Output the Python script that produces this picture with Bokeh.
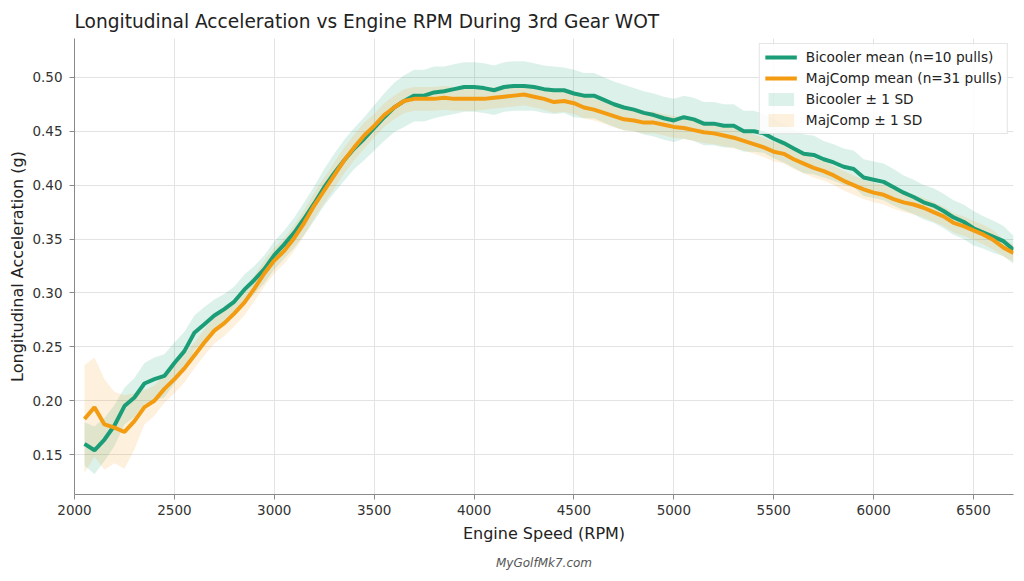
from bokeh.plotting import figure
from bokeh.models import (ColumnDataSource, Range1d, FixedTicker, PrintfTickFormatter,
                          Legend, LegendItem, Title)
from bokeh.embed import file_html
from bokeh.resources import INLINE

# Engine speed bins (RPM)
rpm = list(range(2050, 6701, 50))

# Bicooler: mean longitudinal acceleration (g) and standard deviation
bicooler_mean = [
    0.160, 0.154, 0.164, 0.177, 0.195, 0.203, 0.216, 0.220, 0.223, 0.235,
    0.246, 0.263, 0.271, 0.279, 0.285, 0.292, 0.303, 0.312, 0.322, 0.335,
    0.345, 0.356, 0.369, 0.383, 0.398, 0.411, 0.423, 0.434, 0.443, 0.453,
    0.463, 0.472, 0.478, 0.483, 0.483, 0.486, 0.487, 0.489, 0.491, 0.491,
    0.490, 0.488, 0.491, 0.492, 0.492, 0.491, 0.489, 0.488, 0.488, 0.485,
    0.483, 0.483, 0.479, 0.475, 0.472, 0.470, 0.467, 0.465, 0.462, 0.460,
    0.463, 0.461, 0.457, 0.457, 0.455, 0.455, 0.450, 0.450, 0.448, 0.443,
    0.439, 0.434, 0.429, 0.428, 0.424, 0.421, 0.417, 0.415, 0.407, 0.405,
    0.403, 0.398, 0.393, 0.389, 0.384, 0.381, 0.376, 0.370, 0.366, 0.360,
    0.356, 0.352, 0.348, 0.340,
]
bicooler_sd = [
    0.020, 0.022, 0.020, 0.019, 0.017, 0.018, 0.019, 0.020, 0.020, 0.019,
    0.018, 0.016, 0.016, 0.015, 0.014, 0.014, 0.014, 0.013, 0.013, 0.013,
    0.013, 0.014, 0.015, 0.016, 0.017, 0.018, 0.019, 0.019, 0.020, 0.021,
    0.022, 0.023, 0.024, 0.024, 0.024, 0.024, 0.023, 0.023, 0.023, 0.023,
    0.023, 0.023, 0.023, 0.023, 0.023, 0.022, 0.022, 0.022, 0.021, 0.022,
    0.021, 0.021, 0.021, 0.021, 0.021, 0.020, 0.020, 0.020, 0.020, 0.020,
    0.020, 0.020, 0.020, 0.020, 0.020, 0.020, 0.019, 0.019, 0.018, 0.018,
    0.018, 0.018, 0.018, 0.018, 0.017, 0.017, 0.017, 0.017, 0.017, 0.017,
    0.017, 0.017, 0.016, 0.016, 0.016, 0.016, 0.016, 0.016, 0.016, 0.016,
    0.015, 0.015, 0.014, 0.013,
]

# MajComp: mean longitudinal acceleration (g) and standard deviation
majcomp_mean = [
    0.183, 0.194, 0.178, 0.175, 0.171, 0.181, 0.194, 0.200, 0.211, 0.220,
    0.230, 0.242, 0.254, 0.265, 0.272, 0.281, 0.291, 0.304, 0.318, 0.330,
    0.339, 0.351, 0.365, 0.381, 0.395, 0.409, 0.423, 0.435, 0.446, 0.455,
    0.465, 0.472, 0.478, 0.480, 0.480, 0.480, 0.481, 0.480, 0.480, 0.480,
    0.480, 0.481, 0.482, 0.483, 0.484, 0.482, 0.480, 0.477, 0.478, 0.476,
    0.472, 0.470, 0.467, 0.464, 0.461, 0.460, 0.458, 0.458, 0.456, 0.454,
    0.453, 0.451, 0.449, 0.448, 0.446, 0.444, 0.441, 0.438, 0.435, 0.431,
    0.429, 0.424, 0.420, 0.416, 0.413, 0.409, 0.404, 0.400, 0.396, 0.393,
    0.391, 0.387, 0.384, 0.382, 0.379, 0.375, 0.371, 0.365, 0.362, 0.358,
    0.354, 0.349, 0.342, 0.337,
]
majcomp_sd = [
    0.050, 0.046, 0.042, 0.033, 0.034, 0.026, 0.016, 0.014, 0.013, 0.013,
    0.013, 0.012, 0.012, 0.012, 0.012, 0.012, 0.012, 0.012, 0.012, 0.012,
    0.012, 0.012, 0.012, 0.012, 0.012, 0.012, 0.012, 0.012, 0.012, 0.011,
    0.011, 0.011, 0.011, 0.011, 0.011, 0.011, 0.011, 0.011, 0.011, 0.011,
    0.010, 0.010, 0.010, 0.010, 0.010, 0.010, 0.010, 0.010, 0.010, 0.010,
    0.010, 0.010, 0.010, 0.010, 0.010, 0.010, 0.010, 0.010, 0.010, 0.010,
    0.010, 0.010, 0.010, 0.010, 0.010, 0.010, 0.009, 0.009, 0.009, 0.009,
    0.009, 0.009, 0.009, 0.009, 0.009, 0.009, 0.009, 0.009, 0.009, 0.009,
    0.009, 0.009, 0.009, 0.009, 0.009, 0.009, 0.009, 0.009, 0.009, 0.009,
    0.009, 0.009, 0.008, 0.008,
]

x_ticks = [2000, 2500, 3000, 3500, 4000, 4500, 5000, 5500, 6000, 6500]
y_ticks = [0.15, 0.20, 0.25, 0.30, 0.35, 0.40, 0.45, 0.50]

GREEN = "#1b9e77"
ORANGE = "#f39c12"
FONT = "DejaVu Sans"

src = ColumnDataSource(dict(
    rpm=rpm,
    b_mean=bicooler_mean,
    b_lo=[m - s for m, s in zip(bicooler_mean, bicooler_sd)],
    b_hi=[m + s for m, s in zip(bicooler_mean, bicooler_sd)],
    m_mean=majcomp_mean,
    m_lo=[m - s for m, s in zip(majcomp_mean, majcomp_sd)],
    m_hi=[m + s for m, s in zip(majcomp_mean, majcomp_sd)],
))

p = figure(width=1024, height=581, output_backend="svg", toolbar_location=None,
           x_range=Range1d(2000, 6700), y_range=Range1d(0.113, 0.536),
           min_border_left=74, min_border_right=11, min_border_top=38,
           min_border_bottom=87, outline_line_color=None,
           background_fill_color="white", border_fill_color="white")

p.title.text = "Longitudinal Acceleration vs Engine RPM During 3rd Gear WOT"
p.title.text_font = FONT
p.title.text_font_size = "18.6px"
p.title.text_font_style = "normal"
p.title.text_color = "#222222"
p.title.align = "left"
p.title.standoff = 14

# shaded ±1 SD bands
b_band = p.varea(x="rpm", y1="b_lo", y2="b_hi", source=src,
                 fill_color=GREEN, fill_alpha=0.15)
m_band = p.varea(x="rpm", y1="m_lo", y2="m_hi", source=src,
                 fill_color=ORANGE, fill_alpha=0.15)

# mean traces
b_line = p.line(x="rpm", y="b_mean", source=src, line_color=GREEN, line_width=4)
m_line = p.line(x="rpm", y="m_mean", source=src, line_color=ORANGE, line_width=4)

for ax in (p.xaxis[0], p.yaxis[0]):
    ax.axis_line_color = "#8a8a8a"
    ax.major_tick_line_color = "#8a8a8a"
    ax.minor_tick_line_color = None
    ax.major_tick_out = 5
    ax.major_tick_in = 0
    ax.major_label_text_font = FONT
    ax.major_label_text_font_size = "13.5px"
    ax.major_label_text_color = "#333333"
    ax.axis_label_text_font = FONT
    ax.axis_label_text_font_size = "16px"
    ax.axis_label_text_font_style = "normal"
    ax.axis_label_text_color = "#222222"

p.xaxis.axis_label = "Engine Speed (RPM)"
p.yaxis.axis_label = "Longitudinal Acceleration (g)"
p.xaxis.ticker = FixedTicker(ticks=x_ticks)
p.yaxis.ticker = FixedTicker(ticks=y_ticks)
p.yaxis.formatter = PrintfTickFormatter(format="%.2f")
p.yaxis.major_label_standoff = 7
p.xaxis.axis_label_standoff = 6
p.yaxis.axis_label_standoff = 2

p.xgrid.ticker = FixedTicker(ticks=x_ticks)
p.ygrid.ticker = FixedTicker(ticks=y_ticks)
p.grid.grid_line_color = "#e3e3e3"
p.grid.grid_line_width = 1

legend = Legend(items=[
    LegendItem(label="Bicooler mean (n=10 pulls)", renderers=[b_line]),
    LegendItem(label="MajComp mean (n=31 pulls)", renderers=[m_line]),
    LegendItem(label="Bicooler \u00b1 1 SD", renderers=[b_band]),
    LegendItem(label="MajComp \u00b1 1 SD", renderers=[m_band]),
], location="top_right")
legend.label_text_font = FONT
legend.label_text_font_size = "13.7px"
legend.label_text_color = "#222222"
legend.glyph_width = 32
legend.glyph_height = 16
legend.label_height = 16
legend.label_standoff = 9
legend.spacing = 5
legend.padding = 5
legend.margin = 5
legend.border_line_color = "#cccccc"
legend.background_fill_alpha = 0.85
p.add_layout(legend)

credit = Title(text="MyGolfMk7.com", align="center", text_font=FONT,
               text_font_size="12px", text_font_style="italic",
               text_color="#555555", standoff=16)
p.add_layout(credit, "below")

open("out.html", "w").write(file_html(p, INLINE))
